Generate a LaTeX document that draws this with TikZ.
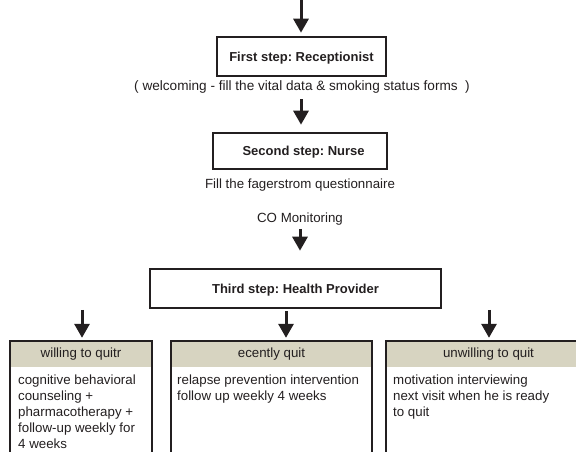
\documentclass[tikz,border=0pt]{standalone}
\usepackage{fontspec}
\setmainfont{Liberation Sans}
\usetikzlibrary{arrows.meta}
\frenchspacing
\definecolor{ink}{HTML}{231F20}
\definecolor{hdrfill}{HTML}{D7D4C1}
\tikzset{
  arr/.style={draw=ink, line width=3pt, -{Triangle[width=15pt,length=14pt]}},
  stepbox/.style={draw=ink, line width=2.6pt, inner sep=0pt, font=\bfseries\fontsize{13}{15}\selectfont, text=ink, text height=9.5pt, text depth=0pt},
  lbl/.style={inner sep=0pt, anchor=base, font=\fontsize{13.3}{15}\selectfont, text=ink},
  hdr/.style={fill=hdrfill, inner sep=0pt, font=\fontsize{13.3}{15}\selectfont, text=ink, text height=9.5pt, text depth=3pt, minimum height=26pt},
  bord/.style={draw=ink, line width=2.2pt},
  body/.style={inner sep=0pt, anchor=base west, align=left, font=\fontsize{13.3}{16}\selectfont, text=ink}
}
\begin{document}
\begin{tikzpicture}[x=1pt,y=-1pt]
\useasboundingbox (0,0) rectangle (576,452);
\clip (0,0) rectangle (576,452);
% step boxes
\node[stepbox, minimum width=169pt, minimum height=39pt] (b1) at (301.5,56.5) {First step: Receptionist};
\node[lbl, font=\fontsize{13.6}{15}\selectfont] (c1) at (302,91) {( welcoming - fill the vital data \& smoking status forms\ \ )};
\node[stepbox, minimum width=174pt, minimum height=36pt] (b2) at (300,151) {\ \ Second step: Nurse};
\node[lbl] (c2) at (300,188) {Fill the fagerstrom questionnaire};
\node[lbl] (c3) at (300,222) {CO Monitoring};
\node[stepbox, minimum width=291pt, minimum height=39pt] (b3) at (295.5,288.5) {Third step: Health Provider};
% headers
\node[hdr, minimum width=142pt] (h1) at (81,354) {willing to quitr};
\node[hdr, minimum width=201pt] (h2) at (271.5,354) {ecently quit};
\node[hdr, minimum width=205pt] (h3) at (488.5,354) {unwilling to quit};
% box borders
\foreach \h in {h1,h2,h3}{
  \draw[bord] ([yshift=-130pt]\h.north west) -- (\h.north west) -- (\h.north east) -- ([yshift=-130pt]\h.north east);
}
% bodies (base anchor = baseline of the last line)
\node[body] (t1) at (18,448) {cognitive behavioral\\counseling +\\pharmacotherapy +\\follow-up weekly for\\4 weeks};
\node[body] (t2) at (177,400) {relapse prevention intervention\\follow up weekly 4 weeks};
\node[body] (t3) at (393,416) {motivation interviewing\\next visit when he is ready\\to quit};
% arrows
\coordinate (start) at (301,0);
\draw[arr] (start) -- ([yshift=3pt]b1.north -| start);
\draw[arr] ([yshift=-5pt]c1.south -| start) -- ([yshift=7pt]b2.north -| start);
\draw[arr] ([yshift=-4pt]c3.south) -- ([yshift=17pt,xshift=4.5pt]b3.north);
\draw[arr] ([yshift=31pt,xshift=1pt]h1.north) -- ([yshift=3pt,xshift=1pt]h1.north);
\draw[arr] ([yshift=-2pt,xshift=-9.5pt]b3.south) -- ([yshift=3pt,xshift=14.5pt]h2.north);
\draw[arr] ([yshift=31pt,xshift=0.5pt]h3.north) -- ([yshift=3pt,xshift=0.5pt]h3.north);
\end{tikzpicture}
\end{document}
